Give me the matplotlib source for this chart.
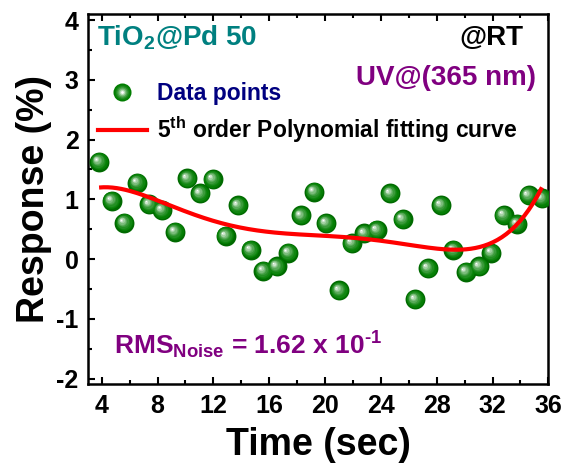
import numpy as np
import matplotlib
matplotlib.use("Agg")
from matplotlib import pyplot as plt
from matplotlib import transforms
from matplotlib.lines import Line2D
from matplotlib.colors import to_rgb
from matplotlib.legend_handler import HandlerTuple

plt.rcParams['font.family'] = ['Liberation Sans', 'DejaVu Sans']
plt.rcParams['font.weight'] = 'bold'
plt.rcParams['axes.unicode_minus'] = False
plt.rcParams['mathtext.fontset'] = 'custom'
plt.rcParams['mathtext.rm'] = 'Liberation Sans:bold'
plt.rcParams['mathtext.bf'] = 'Liberation Sans:bold'
plt.rcParams['mathtext.it'] = 'Liberation Sans:bold'

# Data
time = [3.81, 4.72, 5.62, 6.55, 7.41, 8.32, 9.25, 10.14, 11.05, 11.96,
        12.89, 13.77, 14.68, 15.58, 16.54, 17.38, 18.29, 19.22, 20.08, 21.03,
        21.92, 22.82, 23.71, 24.67, 25.55, 26.46, 27.37, 28.30, 29.20, 30.09,
        31.05, 31.91, 32.79, 33.75, 34.58, 35.54]
response = [1.63, 0.98, 0.61, 1.28, 0.92, 0.82, 0.46, 1.35, 1.10, 1.34,
            0.39, 0.90, 0.155, -0.195, -0.12, 0.11, 0.73, 1.13, 0.605, -0.52,
            0.27, 0.43, 0.49, 1.10, 0.67, -0.67, -0.15, 0.905, 0.155, -0.21,
            -0.12, 0.11, 0.74, 0.59, 1.07, 1.02]

x_ticks = [4, 8, 12, 16, 20, 24, 28, 32, 36]
y_ticks = [-2, -1, 0, 1, 2, 3, 4]

#5th order polynomial fit of the data points
coef = np.polyfit(time, response, 5)
fit_x = np.linspace(min(time), max(time), 200)
fit_y = np.polyval(coef, fit_x)

fig = plt.figure(figsize=(5.68, 4.68), dpi=100)
ax = fig.add_axes([0.1555, 0.1795, 0.81, 0.7905])

#Shaded green balls: layers of circles going from green to white
green = np.array(to_rgb('#007d00'))
white = np.array([1.0, 1.0, 1.0])
n_layers = 9
base_s = 205
ax.scatter(time, response, s=base_s, color='#006a00', zorder=3, linewidths=0)
for i in range(1, n_layers + 1):
    t = i / n_layers
    col = green + (white - green) * t ** 1.8
    size = base_s * (1 - 0.93 * t) ** 2 * 0.92
    tr = transforms.offset_copy(ax.transData, fig=fig, x=-2.5 * t, y=2.1 * t, units='points')
    ax.scatter(time, response, s=size, color=col, zorder=3 + i * 0.01, linewidths=0, transform=tr)

ax.plot(fit_x, fit_y, color='red', lw=3, zorder=5, solid_capstyle='butt')

ax.set_xlim(3.04, 36)
ax.set_ylim(-2.09, 4.1)
ax.set_xticks(x_ticks)
ax.set_yticks(y_ticks)
ax.set_xticks(np.arange(6, 36, 4), minor=True)
ax.set_yticks(np.arange(-1.5, 4, 1), minor=True)
ax.tick_params(which='major', direction='in', length=5, width=1.5, labelsize=18, pad=7)
ax.tick_params(which='minor', direction='in', length=3, width=1.5)
ax.tick_params(which='both', top=True)
for s in ax.spines.values():
    s.set_linewidth(1.8)
for lab in ax.get_xticklabels() + ax.get_yticklabels():
    lab.set_fontweight('bold')

ax.set_xlabel('Time (sec)', fontsize=27, fontweight='bold', labelpad=7)
ax.set_ylabel('Response (%)', fontsize=27, fontweight='bold', labelpad=3)

#Legend with layered marker for the ball
ball = tuple(Line2D([], [], ls='none', marker='o', markersize=13 * (1 - 0.85 * i / 6), markeredgewidth=0,
                    color=tuple(green + (white - green) * (i / 6) ** 1.8)) for i in range(7))
redline = Line2D([], [], color='red', lw=3)
leg = ax.legend([ball, redline], ['Data points', r'5$^{\mathbf{th}}$ order Polynomial fitting curve'],
                handler_map={tuple: HandlerTuple(ndivide=1, pad=0)}, numpoints=1,
                loc='upper left', bbox_to_anchor=(0.002, 0.842), frameon=False,
                prop={'size': 16.5, 'weight': 'bold'}, handlelength=2.1, handletextpad=0.45,
                labelspacing=0.4, borderaxespad=0)
leg.get_texts()[0].set_color('#000080')
leg.get_texts()[1].set_color('black')

ax.text(0.018, 0.936, r'TiO$_\mathbf{2}$@Pd 50', transform=ax.transAxes, color='#008080',
        fontsize=20, fontweight='bold', va='center', ha='left')
ax.text(0.945, 0.936, '@RT', transform=ax.transAxes, color='black',
        fontsize=20, fontweight='bold', va='center', ha='right')
ax.text(0.972, 0.827, 'UV@(365 nm)', transform=ax.transAxes, color='#800080',
        fontsize=20, fontweight='bold', va='center', ha='right')
ax.text(0.055, 0.105, r'RMS$_{\mathbf{Noise}}$ = 1.62 x 10$^{\text{-1}}$', transform=ax.transAxes,
        color='#800080', fontsize=19, fontweight='bold', va='center', ha='left')

fig.savefig('out.png', dpi=100)
